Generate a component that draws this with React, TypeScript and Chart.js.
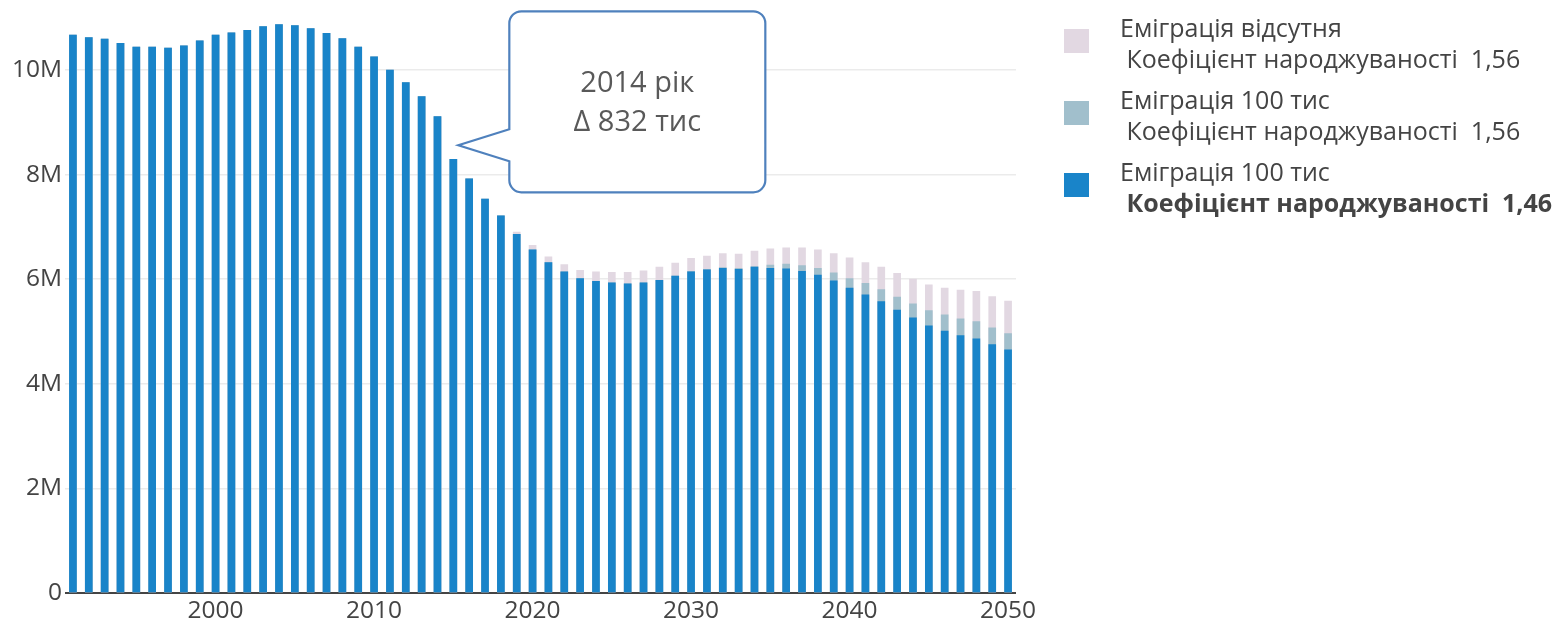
import React, { useEffect, useRef } from "react";
import { Chart, registerables } from "chart.js";

Chart.register(...registerables);

const years: number[] = [];
for (let y = 1991; y <= 2050; y++) years.push(y);

// millions
const blueSeries = [
  10.67, 10.62, 10.59, 10.51, 10.44, 10.44, 10.42, 10.46, 10.56, 10.67,
  10.71, 10.76, 10.83, 10.87, 10.85, 10.79, 10.70, 10.60, 10.44, 10.25,
  10.00, 9.76, 9.49, 9.11, 8.29, 7.92, 7.53, 7.21, 6.86, 6.56,
  6.32, 6.14, 6.01, 5.96, 5.93, 5.91, 5.93, 5.98, 6.06, 6.14,
  6.18, 6.21, 6.19, 6.23, 6.21, 6.20, 6.15, 6.08, 5.97, 5.83,
  5.70, 5.57, 5.41, 5.26, 5.11, 5.01, 4.92, 4.86, 4.75, 4.65,
];

const greySeries = [
  10.67, 10.62, 10.59, 10.51, 10.44, 10.44, 10.42, 10.46, 10.56, 10.67,
  10.71, 10.76, 10.83, 10.87, 10.85, 10.79, 10.70, 10.60, 10.44, 10.25,
  10.00, 9.76, 9.49, 9.11, 8.29, 7.92, 7.53, 7.21, 6.86, 6.56,
  6.32, 6.14, 6.01, 5.96, 5.93, 5.91, 5.93, 5.98, 6.06, 6.15,
  6.19, 6.22, 6.21, 6.24, 6.27, 6.29, 6.26, 6.21, 6.12, 6.01,
  5.92, 5.80, 5.66, 5.53, 5.40, 5.32, 5.24, 5.19, 5.07, 4.96,
];

const pinkSeries = [
  10.67, 10.62, 10.59, 10.51, 10.44, 10.44, 10.42, 10.46, 10.56, 10.67,
  10.71, 10.76, 10.83, 10.87, 10.85, 10.79, 10.70, 10.60, 10.44, 10.25,
  10.00, 9.76, 9.49, 9.11, 8.29, 7.92, 7.53, 7.21, 6.90, 6.65,
  6.43, 6.28, 6.17, 6.14, 6.13, 6.13, 6.16, 6.23, 6.31, 6.40,
  6.44, 6.49, 6.48, 6.54, 6.58, 6.60, 6.60, 6.56, 6.49, 6.41,
  6.32, 6.23, 6.11, 6.00, 5.89, 5.83, 5.79, 5.77, 5.67, 5.58,
];

const yTickValues = [0, 2, 4, 6, 8, 10];
const xTickYears = [2000, 2010, 2020, 2030, 2040, 2050];

const legendItems = [
  { color: "#e2d8e2", line1: "Еміграція відсутня", line2: " Коефіцієнт народжуваності  1,56", bold: false },
  { color: "#a1bfcc", line1: "Еміграція 100 тис", line2: " Коефіцієнт народжуваності  1,56", bold: false },
  { color: "#1984c9", line1: "Еміграція 100 тис", line2: " Коефіцієнт народжуваності  1,46", bold: true },
];

const calloutLines = ["2014 рік", "Δ 832 тис"];
const calloutYear = 2015;
const calloutValue = 8.56;

const FONT = "'Open Sans', 'DejaVu Sans', sans-serif";

const calloutPlugin = {
  id: "callout",
  afterDraw(chart: any) {
    const ctx = chart.ctx as CanvasRenderingContext2D;
    const xs = chart.scales.x;
    const ys = chart.scales.y;
    const tipX = xs.getPixelForValue(years.indexOf(calloutYear)) + 5;
    const tipY = ys.getPixelForValue(calloutValue * 1e6);
    const left = tipX + 51;
    const top = tipY - 134;
    const w = 256;
    const h = 181;
    const r = 12;
    const baseTop = tipY - 16;
    const baseBot = tipY + 16;
    ctx.save();
    ctx.beginPath();
    ctx.moveTo(left + r, top);
    ctx.lineTo(left + w - r, top);
    ctx.arcTo(left + w, top, left + w, top + r, r);
    ctx.lineTo(left + w, top + h - r);
    ctx.arcTo(left + w, top + h, left + w - r, top + h, r);
    ctx.lineTo(left + r, top + h);
    ctx.arcTo(left, top + h, left, top + h - r, r);
    ctx.lineTo(left, baseBot);
    ctx.lineTo(tipX, tipY);
    ctx.lineTo(left, baseTop);
    ctx.lineTo(left, top + r);
    ctx.arcTo(left, top, left + r, top, r);
    ctx.closePath();
    ctx.fillStyle = "#ffffff";
    ctx.fill();
    ctx.lineWidth = 2.2;
    ctx.strokeStyle = "#4f81bd";
    ctx.lineJoin = "miter";
    ctx.stroke();
    ctx.fillStyle = "#595959";
    ctx.font = `29px ${FONT}`;
    ctx.textAlign = "center";
    ctx.textBaseline = "middle";
    const cx = left + w / 2;
    ctx.fillText(calloutLines[0], cx, top + 72);
    ctx.fillText(calloutLines[1], cx, top + 111);
    ctx.restore();
  },
};

export default function App() {
  const canvasRef = useRef<HTMLCanvasElement | null>(null);

  useEffect(() => {
    if (!canvasRef.current) return;
    const chart = new Chart(canvasRef.current, {
      type: "bar",
      data: {
        labels: years.map(String),
        datasets: [
          {
            label: "pink",
            data: pinkSeries.map((v) => v * 1e6),
            backgroundColor: "#e2d8e2",
            grouped: false,
            barThickness: 7,
            order: 3,
          } as any,
          {
            label: "grey",
            data: greySeries.map((v) => v * 1e6),
            backgroundColor: "#a1bfcc",
            grouped: false,
            barThickness: 7,
            order: 2,
          } as any,
          {
            label: "blue",
            data: blueSeries.map((v) => v * 1e6),
            backgroundColor: "#1984c9",
            grouped: false,
            barThickness: 7,
            order: 1,
          } as any,
        ],
      },
      options: {
        animation: false,
        responsive: false,
        maintainAspectRatio: false,
        layout: { padding: { left: 0, right: 547, top: 17.7, bottom: 0 } },
        plugins: { legend: { display: false }, tooltip: { enabled: false } },
        scales: {
          x: {
            type: "category",
            offset: true,
            grid: { display: false, drawTicks: false },
            border: { display: false },
            ticks: {
              autoSkip: false,
              maxRotation: 0,
              padding: 3,
              color: "#444",
              font: { family: FONT, size: 24.5 },
              callback: (_v: any, i: number) =>
                xTickYears.includes(years[i]) ? String(years[i]) : "",
            },
            afterFit: (s: any) => {
              s.height = 30;
            },
          },
          y: {
            min: 0,
            max: 11e6,
            grid: {
              drawTicks: false,
              color: (c: any) => (c.tick && c.tick.value === 0 ? "#444" : "#ebebeb"),
              lineWidth: (c: any) => (c.tick && c.tick.value === 0 ? 2 : 1.5),
            },
            border: { display: false },
            afterBuildTicks: (s: any) => {
              s.ticks = yTickValues.map((v) => ({ value: v * 1e6 }));
            },
            ticks: {
              padding: 3,
              color: "#444",
              font: { family: FONT, size: 24.5 },
              callback: (v: any) => (v === 0 ? "0" : `${v / 1e6}M`),
            },
            afterFit: (s: any) => {
              s.width = 65;
            },
          },
        },
      } as any,
      plugins: [calloutPlugin],
    });
    return () => chart.destroy();
  }, []);

  return (
    <div style={{ position: "fixed", left: 0, top: 0, width: 1563, height: 623, background: "#fff" }}>
      <canvas ref={canvasRef} width={1563} height={623} style={{ position: "absolute", left: 0, top: 0 }} />
      {legendItems.map((it, i) => (
        <div
          key={i}
          style={{
            position: "absolute",
            left: 1064,
            top: 12 + i * 72,
            fontFamily: FONT,
            fontSize: 25,
            color: "#444",
            lineHeight: "31px",
          }}
        >
          <div
            style={{
              position: "absolute",
              left: 0,
              top: 17,
              width: 25,
              height: 24,
              background: it.color,
            }}
          />
          <div style={{ position: "absolute", left: 56, top: 0, whiteSpace: "pre" }}>
            <div>{it.line1}</div>
            <div style={{ fontWeight: it.bold ? 700 : 400 }}>{it.line2}</div>
          </div>
        </div>
      ))}
    </div>
  );
}
